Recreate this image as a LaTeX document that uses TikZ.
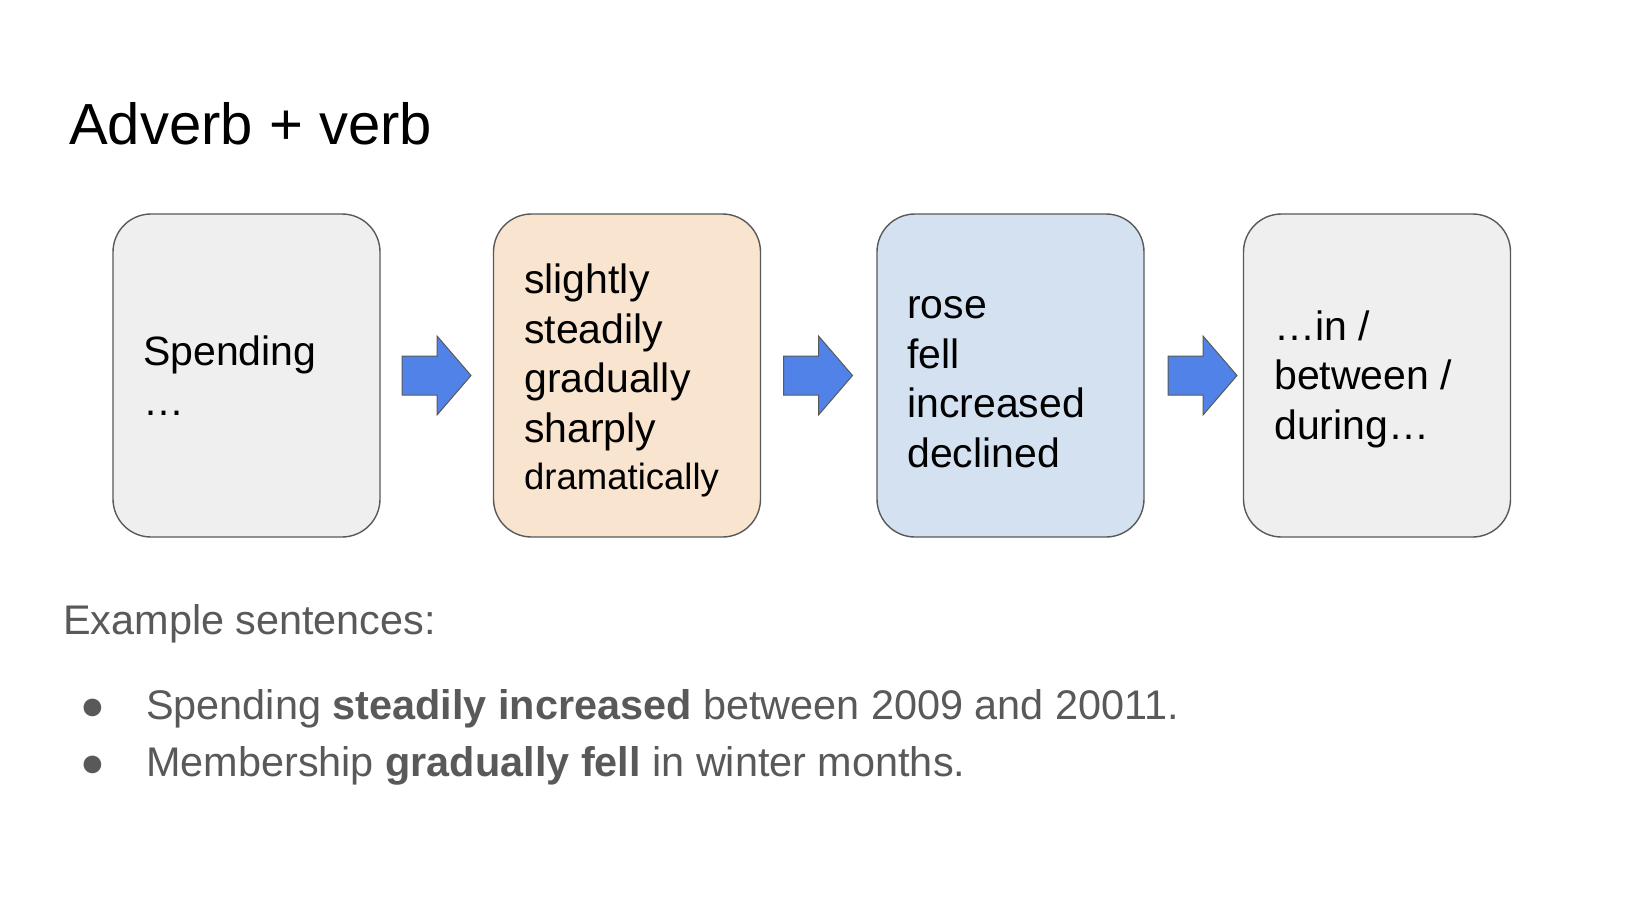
\documentclass[tikz,border=0pt]{standalone}
\usepackage{fontspec}
\setmainfont{Liberation Sans}
\usetikzlibrary{calc}
\definecolor{boxgray}{HTML}{EFEFEF}
\definecolor{boxorange}{HTML}{F9E5CF}
\definecolor{boxblue}{HTML}{D4E1F0}
\definecolor{edgegray}{HTML}{595959}
\definecolor{arrowblue}{HTML}{5082E8}
\definecolor{textgray}{HTML}{595959}
\tikzset{
  stagebox/.style={draw=edgegray, line width=1.4pt, rounded corners=38pt,
    minimum width=267pt, minimum height=323pt, inner sep=0pt, outer sep=0pt},
  boxtext/.style={anchor=base west, align=left, inner sep=0pt,
    font=\fontsize{41}{49.5}\selectfont},
  blockarrow/.style={fill=arrowblue, draw=edgegray, line width=1pt, line join=miter},
  titletext/.style={anchor=base west, inner sep=0pt, font=\fontsize{58}{68}\selectfont},
  bodytext/.style={anchor=base west, inner sep=0pt, text=textgray,
    font=\fontsize{41.4}{49}\selectfont},
  bulletmark/.style={anchor=base, inner sep=0pt, text=textgray,
    font=\fontsize{41}{49}\selectfont}
}
\begin{document}
\begin{tikzpicture}[x=1pt,y=-1pt]
\useasboundingbox (0,0) rectangle (1644,912);
\fill[white] (0,0) rectangle (1644,912);

\node[titletext] (title) at (69,145) {Adverb + verb};

\node[stagebox, fill=boxgray]   (b1) at (246.5,375.5) {};
\node[stagebox, fill=boxorange] (b2) at (627,375.5) {};
\node[stagebox, fill=boxblue]   (b3) at (1010.5,375.5) {};
\node[stagebox, fill=boxgray]   (b4) at (1377,375.5) {};

% base anchor of a multi-line node is the baseline of its last line
\node[boxtext] (t1) at (143,415) {Spending\\…};
\node[boxtext] (t2) at (524,489) {slightly\\steadily\\gradually\\sharply\\[-2.5pt]{\fontsize{36.5}{44}\selectfont dramatically}};
\node[boxtext] (t3) at (907,467) {rose\\fell\\increased\\declined};
\node[boxtext] (t4) at (1274,439) {…in /\\between /\\during…};

\draw[blockarrow] ($(b1.east)+(22,-19.5)$) -- ++(35,0) -- ++(0,-20) -- ++(34,39.5)
  -- ++(-34,39.5) -- ++(0,-20) -- ++(-35,0) -- cycle;
\draw[blockarrow] ($(b2.east)+(23,-19.5)$) -- ++(35,0) -- ++(0,-20) -- ++(34,39.5)
  -- ++(-34,39.5) -- ++(0,-20) -- ++(-35,0) -- cycle;
\draw[blockarrow] ($(b3.east)+(24,-19.5)$) -- ++(35,0) -- ++(0,-20) -- ++(34,39.5)
  -- ++(-34,39.5) -- ++(0,-20) -- ++(-35,0) -- cycle;

\node[bodytext] (ex) at (63,634) {Example sentences:};
\node[bulletmark] (m1) at (93,719) {●};
\node[bodytext] (s1) at (146,719) {Spending \textbf{steadily increased} between 2009 and 20011.};
\node[bulletmark] (m2) at (93,776) {●};
\node[bodytext] (s2) at (146,776) {Membership \textbf{gradually fell} in winter months.};
\end{tikzpicture}
\end{document}
